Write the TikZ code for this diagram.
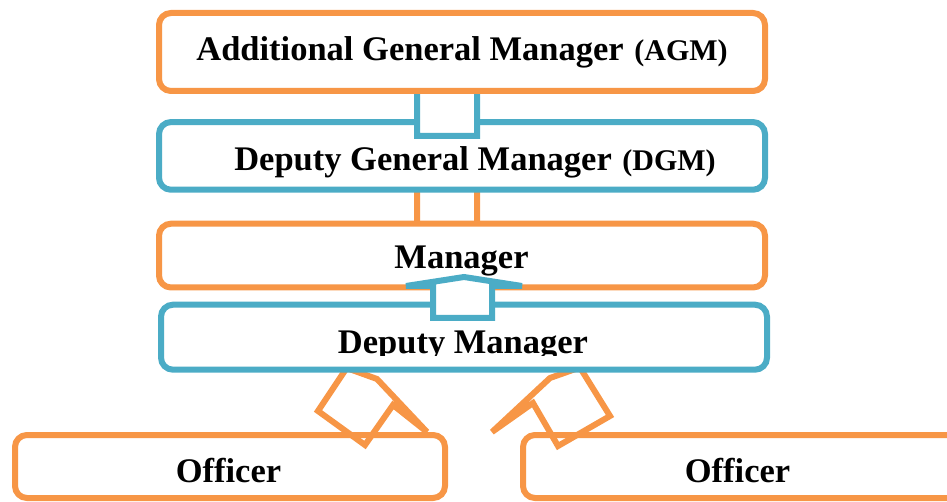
\documentclass[tikz,border=0pt]{standalone}
\usepackage{fontspec}
\setmainfont{Liberation Serif}
\definecolor{orgC}{HTML}{F79646}
\definecolor{bluC}{HTML}{4BACC6}
\newcommand{\smallpar}{\fontsize{30}{34}\selectfont}
\begin{document}
\begin{tikzpicture}[x=1pt,y=-1pt,
  box/.style={draw, line width=6pt, rounded corners=12pt, fill=white, inner sep=0pt},
  obox/.style={box, draw=orgC},
  bbox/.style={box, draw=bluC},
  blk/.style={line width=6pt, line join=miter},
  lbl/.style={font=\bfseries\fontsize{34.5}{40}\selectfont, anchor=base, inner sep=0pt},
]
\useasboundingbox (0,0) rectangle (947,502);
% arrow DGM -> Manager (behind both boxes)
\draw[blk, draw=orgC, fill=white] (417,235) -- (417,175) -- (387,175) -- (447,150) -- (507,175) -- (477,175) -- (477,235) -- cycle;
\node[bbox, minimum width=606pt, minimum height=67.7pt] (dgm) at (462,155.9) {};
\node[obox, minimum width=606pt, minimum height=63.8pt] (mgr) at (462,255.6) {};
% arrow DGM -> AGM
\draw[blk, draw=bluC, fill=white] (417,136) -- (417,91) -- (390,91) -- (447,60) -- (504,91) -- (477,91) -- (477,136) -- cycle;
\node[obox, minimum width=606pt, minimum height=78pt] (agm) at (462,52) {};
% officers
\node[obox, minimum width=430pt, minimum height=63pt] (offl) at (230,466.5) {};
\node[obox, minimum width=452pt, minimum height=63pt] (offr) at (749,466.5) {};
% diagonal arrows
\draw[blk, draw=orgC] (348,366) -- (318,411) -- (365,445) -- (393,405) -- (427,432) -- (377,379) -- (341,366);
\draw[blk, draw=orgC] (579,366) -- (610,416) -- (558,446) -- (533,403) -- (492,432) -- (550,378) -- (584,366);
% deputy manager
\node[bbox, minimum width=606pt, minimum height=65pt] (dep) at (464,337.2) {};
% texts
\node[lbl] (tagm) at (462,61) {Additional General Manager\hspace{2pt} {\smallpar(AGM)}};
\node[lbl] (tdgm) at (475,171) {Deputy General Manager\hspace{2pt} {\smallpar(DGM)}};
\node[lbl] (tmgr) at (461.5,269) {Manager};
\begin{scope}
\clip (300,320) rectangle (620,355.5);
\node[lbl] (tdep) at (463,353) {Deputy Manager};
\end{scope}
\node[lbl] (toffl) at (228.5,482) {Officer};
\node[lbl] (toffr) at (737.5,482) {Officer};
% arrow Deputy -> Manager (on top)
\draw[blk, draw=bluC, fill=white] (464,277) -- (406,286) -- (433,286) -- (433,318) -- (492,318) -- (492,286) -- (522,286) -- cycle;
\end{tikzpicture}
\end{document}
